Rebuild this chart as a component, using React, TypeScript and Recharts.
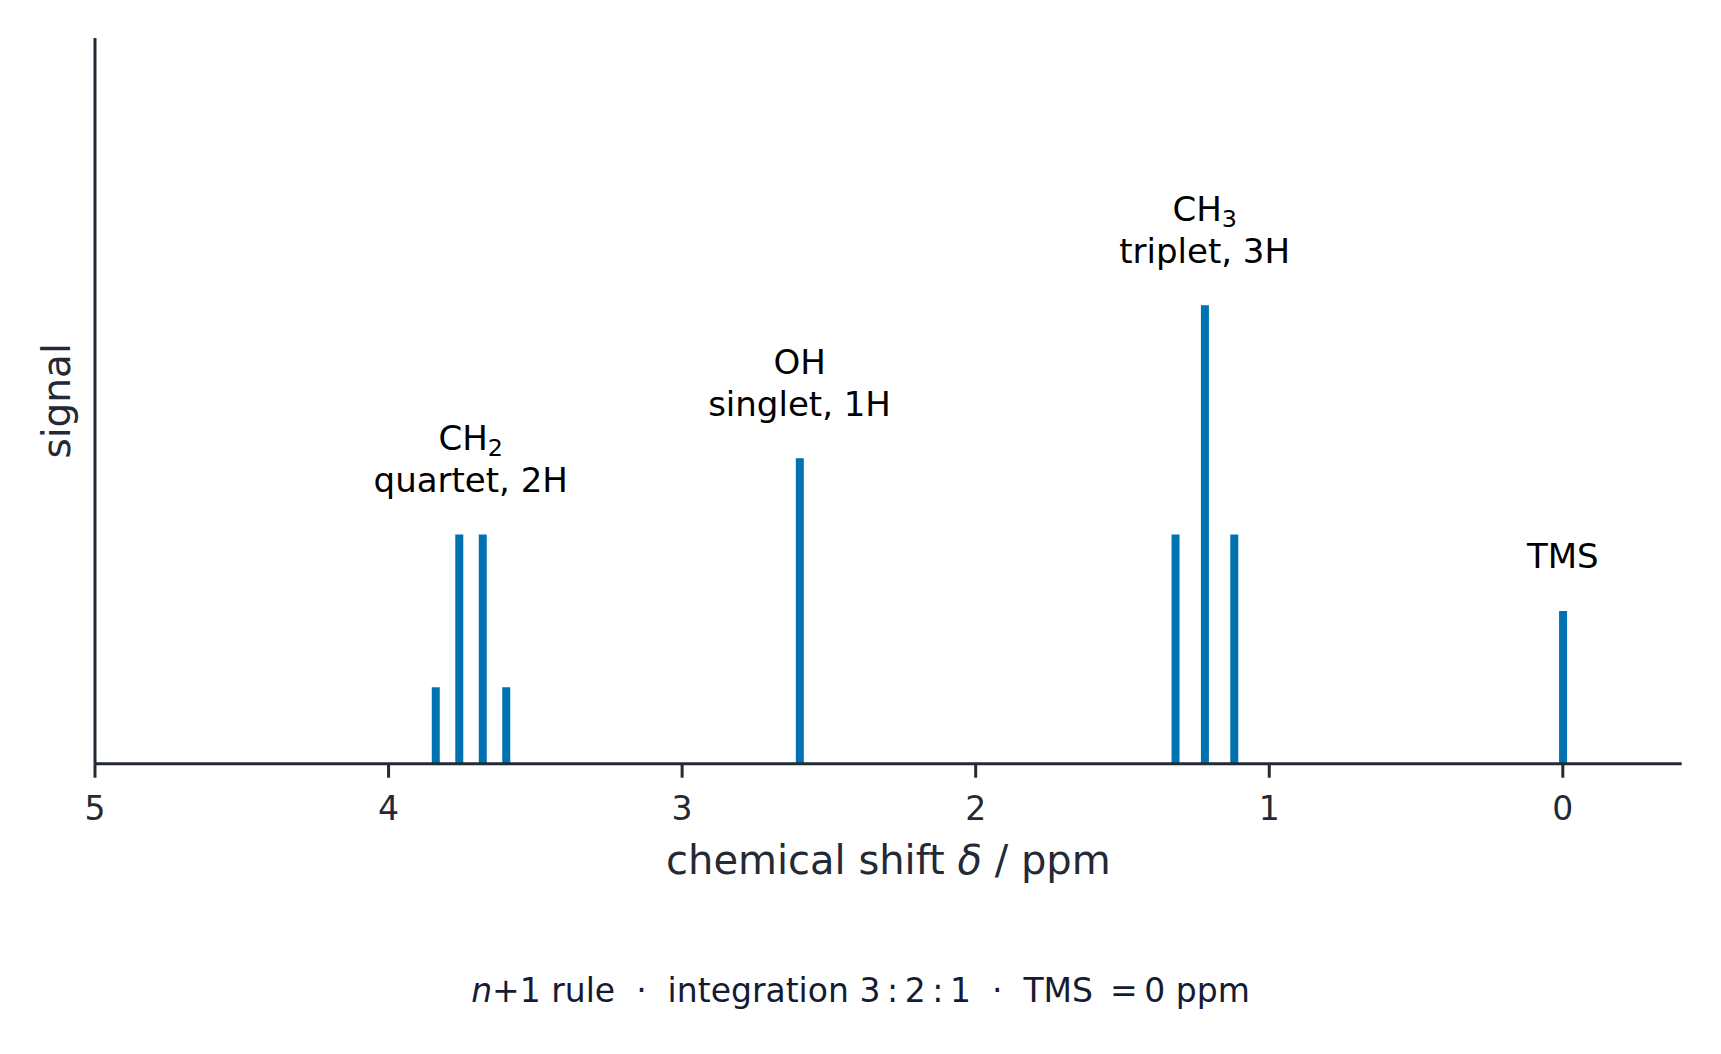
import React from 'react';
import { ComposedChart, Bar, XAxis, YAxis, ReferenceDot, Label } from 'recharts';

// ---- data ----
const quartetShifts = [3.84, 3.76, 3.68, 3.6];
const quartetHeights = [1, 3, 3, 1];
const singletShifts = [2.6];
const singletHeights = [4];
const tripletShifts = [1.32, 1.22, 1.12];
const tripletHeights = [3, 6, 3];
const tmsShifts = [0];
const tmsHeights = [2];

const xTicks = [0, 1, 2, 3, 4, 5];
const xDomain: [number, number] = [-0.405, 5];
const yDomain: [number, number] = [0, 9.5];

const annotationX = [3.72, 2.6, 1.22, 0];
const annotationY = [3, 4, 6, 2];
const annotationGroup = ['CH', 'OH', 'CH', 'TMS'];
const annotationSub = ['2', '', '3', ''];
const annotationDesc = ['quartet, 2H', 'singlet, 1H', 'triplet, 3H', ''];

const xLabelText = 'chemical shift';
const xLabelSymbol = 'δ';
const xLabelUnit = ' / ppm';
const yLabelText = 'signal';

// ---- build table ----
const shifts = [...quartetShifts, ...singletShifts, ...tripletShifts, ...tmsShifts];
const heights = [...quartetHeights, ...singletHeights, ...tripletHeights, ...tmsHeights];
const peaks = shifts.map((s, i) => ({ shift: s, signal: heights[i] }));

const FONT = "'DejaVu Sans', 'Liberation Sans', sans-serif";
const AXIS = '#232a36';
const BLUE = '#0072B2';
const W = 1721;
const H = 1054;

const annFont = 34;

function makeAnnotation(i: number) {
  return (props: any) => {
    const vb = props.viewBox || {};
    const cx = vb.x + (vb.width || 0) / 2;
    const cy = vb.y + (vb.height || 0) / 2;
    const hasDesc = annotationDesc[i] !== '';
    const line2 = cy - 42.6;
    const line1 = hasDesc ? line2 - 41.7 : line2;
    return (
      <g>
        <text x={cx} y={line1} textAnchor="middle" fontFamily={FONT} fontSize={annFont} fill="#000">
          {annotationGroup[i]}
          {annotationSub[i] !== '' ? (
            <tspan fontSize={annFont * 0.7} dy={6}>{annotationSub[i]}</tspan>
          ) : null}
        </text>
        {hasDesc ? (
          <text x={cx} y={line2} textAnchor="middle" fontFamily={FONT} fontSize={annFont} fill="#000">
            {annotationDesc[i]}
          </text>
        ) : null}
      </g>
    );
  };
}

const XLabel = (props: any) => {
  const vb = props.viewBox;
  return (
    <text x={vb.x + vb.width / 2} y={vb.y + 110} textAnchor="middle" fontFamily={FONT} fontSize={40} fill={AXIS}>
      {xLabelText}{'\u00A0'}
      <tspan fontStyle="italic">{xLabelSymbol}</tspan>
      {xLabelUnit}
    </text>
  );
};

const YLabel = (props: any) => {
  const vb = props.viewBox;
  const x = 69.6;
  const y = vb.y + vb.height / 2;
  return (
    <text x={x} y={y} transform={`rotate(-90, ${x}, ${y})`} textAnchor="middle" fontFamily={FONT} fontSize={39} fill={AXIS}>
      {yLabelText}
    </text>
  );
};

export default function App() {
  return (
    <div style={{ position: 'absolute', left: 0, top: 0, width: W, height: H, background: '#fff' }}>
      <ComposedChart
        width={W}
        height={H}
        data={peaks}
        margin={{ top: 38, right: 39.3, bottom: 180.3, left: 0 }}
      >
        <XAxis
          dataKey="shift"
          type="number"
          domain={xDomain}
          ticks={xTicks}
          reversed
          allowDataOverflow
          height={110}
          tickSize={14}
          tickMargin={19}
          axisLine={{ stroke: AXIS, strokeWidth: 3 }}
          tickLine={{ stroke: AXIS, strokeWidth: 3 }}
          tick={{ fill: AXIS, fontSize: 33, fontFamily: FONT }}
          label={<Label content={XLabel} />}
        />
        <YAxis
          type="number"
          domain={yDomain}
          allowDataOverflow
          width={95}
          tick={false}
          tickLine={false}
          axisLine={{ stroke: AXIS, strokeWidth: 3 }}
          label={<Label content={YLabel} />}
        />
        <Bar dataKey="signal" fill={BLUE} barSize={8} isAnimationActive={false} />
        {annotationX.map((ax, i) => (
          <ReferenceDot
            key={i}
            x={ax}
            y={annotationY[i]}
            r={1}
            fill="none"
            stroke="none"
            label={<Label content={makeAnnotation(i)} />}
          />
        ))}
      </ComposedChart>
      <svg width={W} height={H} style={{ position: 'absolute', left: 0, top: 0, pointerEvents: 'none' }}>
        <text x={W / 2} y={1002} textAnchor="middle" fontFamily={FONT} fontSize={33} fill="#161b33">
          <tspan fontStyle="italic">n</tspan>
          {'+1 rule\u00A0\u00A0·\u00A0\u00A0integration 3\u2009:\u20092\u2009:\u20091\u00A0\u00A0·\u00A0\u00A0TMS\u00A0\u2009=\u20090 ppm'}
        </text>
      </svg>
    </div>
  );
}
